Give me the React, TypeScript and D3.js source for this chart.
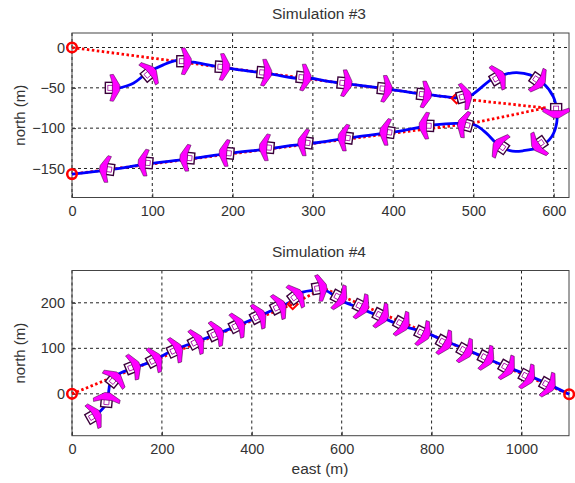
import React, { useEffect, useRef } from 'react';
import * as d3 from 'd3';

// Simulation #3, values (metres)
const sim3PathEast = [57.7, 76.4, 93, 113.7, 130.3, 151, 176, 209.2, 246.6, 279.8, 296.4, 321.3, 348.3, 396, 445.8, 487.4, 497.7, 524.7, 541.3, 553.8, 570.4, 587, 599.4, 603.6, 603.6, 597.4, 582.8, 562.1, 545.5, 528.9, 516.4, 501.9, 479, 450, 404.3, 354.5, 304.7, 271.5, 242.4, 200.9, 142.8, 93, 47.3, 0];
const sim3PathNorth = [-50.5, -44.3, -31.9, -21.5, -16.1, -18.2, -22.8, -27.7, -32.7, -38.1, -38.1, -42.2, -45.6, -51.8, -58.8, -62.1, -58.8, -38.1, -32.7, -31.1, -34, -44.3, -60.9, -77.5, -94, -110.7, -123.1, -128, -128, -119, -106.5, -96.1, -94, -96.1, -104.4, -110.7, -118.1, -121.8, -126, -130.6, -138.4, -144.6, -151.3, -157];
const sim3WayEast = [0, 479, 590, 497, 0];
const sim3WayNorth = [0, -63, -75, -94, -157];
const sim3PlaneEast = [49, 95, 138, 186, 238, 287, 338, 388, 437, 487, 529, 579, 603, 583, 535, 491, 443, 394, 342, 292, 244, 194, 145, 93, 45];
const sim3PlaneNorth = [-50, -33, -17, -24, -31, -37, -44, -51, -58, -61, -38, -40, -77, -119, -123, -96, -97, -105, -112, -118, -124, -131, -137, -143, -151];
const sim3PlaneHeading = [0, 40, 0, -3, -5, -6, -6, -6, -6, 15, 30, -35, -90, -145, 145, 165, 178, 172, 172, 172, 175, 175, 175, 175, 172];

// Simulation #4
const sim4PathEast = [58, 77, 81, 85, 99, 136, 181, 225, 270, 314, 359, 411, 455, 492, 507, 544, 567, 596, 641, 685, 730, 782, 826, 871, 915, 960, 1004, 1056, 1106];
const sim4PathNorth = [-43, -21, 0, 23, 41, 56, 73, 96, 112, 128, 146, 168, 188, 206, 221, 228, 226, 206, 188, 170, 151, 136, 118, 100, 81, 62, 45, 23, -1];
const sim4WayEast = [0, 491, 559, 1106];
const sim4WayNorth = [0, 197, 232, -1];
const sim4PlaneEast = [46, 77, 92, 133, 181, 227, 274, 318, 365, 412, 457, 496, 548, 592, 641, 685, 731, 778, 826, 872, 919, 965, 1010, 1056];
const sim4PlaneNorth = [-50, -16, 30, 58, 73, 95, 113, 131, 149, 169, 190, 213, 232, 213, 193, 173, 155, 134, 114, 96, 80, 59, 39, 21];
const sim4PlaneHeading = [30, 85, 51, 22, 28, 25, 28, 25, 27, 27, 27, 37, 10, -28, -27, -27, -29, -26, -29, -30, -27, -30, -28, -29];

const wingPath = 'M-1.5,-13 L2,-13.5 L8.5,-2.5 L8.5,2.5 L2,13.5 L-1.5,13 L1,5 L1,-5 Z';
const textColor = '#333333';
const font = '"Liberation Sans", Arial, sans-serif';

function drawPanel(svg, opt) {
	const x = d3.scaleLinear().domain(opt.xDomain).range([72, 569]);
	const y = d3.scaleLinear().domain(opt.yDomain).range(opt.yRange);
	const left = 72, right = 569, top = opt.yRange[1], bottom = opt.yRange[0];
	const g = svg.append('g');

	// grid
	g.selectAll('.vgrid').data(opt.xTicks).enter().append('line')
		.attr('x1', d => x(d)).attr('x2', d => x(d)).attr('y1', top).attr('y2', bottom)
		.attr('stroke', '#222').attr('stroke-dasharray', '3,3');
	g.selectAll('.hgrid').data(opt.yTicks).enter().append('line')
		.attr('x1', left).attr('x2', right).attr('y1', d => y(d)).attr('y2', d => y(d))
		.attr('stroke', '#222').attr('stroke-dasharray', '3,3');

	// axes
	const xAxis = d3.axisBottom(x).tickValues(opt.xTicks).tickSize(-4).tickPadding(8).tickFormat(d3.format('d'));
	const yAxis = d3.axisLeft(y).tickValues(opt.yTicks).tickSize(-4).tickPadding(7).tickFormat(d3.format('d'));
	const ax = g.append('g').attr('transform', 'translate(0,' + bottom + ')').call(xAxis);
	const ay = g.append('g').attr('transform', 'translate(' + left + ',0)').call(yAxis);
	for (const a of [ax, ay]) {
		a.select('.domain').remove();
		a.selectAll('line').attr('stroke', '#333');
		a.selectAll('text').attr('fill', textColor).attr('font-family', font).attr('font-size', 14.5);
	}
	g.append('rect')
		.attr('x', left).attr('y', top).attr('width', right - left).attr('height', bottom - top)
		.attr('fill', 'none').attr('stroke', '#444');

	const line = d3.line().x(d => x(d[0])).y(d => y(d[1]));

	// planned route
	g.append('path').datum(d3.zip(opt.wayEast, opt.wayNorth))
		.attr('d', line).attr('fill', 'none').attr('stroke', '#ff0000')
		.attr('stroke-width', 2.8).attr('stroke-dasharray', '2.5,2.5');

	// flown path
	g.append('path').datum(d3.zip(opt.pathEast, opt.pathNorth))
		.attr('d', line.curve(d3.curveCatmullRom)).attr('fill', 'none')
		.attr('stroke', '#0000ff').attr('stroke-width', 2.8);

	// waypoints, circles at the ends of the route and diamonds between
	const ends = [0, opt.wayEast.length - 1];
	g.selectAll('.end').data(ends).enter().append('circle')
		.attr('cx', i => x(opt.wayEast[i])).attr('cy', i => y(opt.wayNorth[i])).attr('r', 4.8)
		.attr('fill', 'none').attr('stroke', '#ff0000').attr('stroke-width', 2.5);
	g.selectAll('.mid').data(opt.diamonds).enter().append('path')
		.attr('d', d3.symbol().type(d3.symbolSquare).size(50))
		.attr('transform', i => 'translate(' + x(opt.wayEast[i]) + ',' + y(opt.wayNorth[i]) + ') rotate(45)')
		.attr('fill', 'none').attr('stroke', '#ff0000').attr('stroke-width', 2);

	// aircraft
	const planes = g.selectAll('.plane').data(opt.planeEast).enter().append('g')
		.attr('transform', (d, i) => 'translate(' + x(d) + ',' + y(opt.planeNorth[i]) + ') rotate(' + (-opt.planeHeading[i]) + ')');
	planes.append('rect').attr('x', -6).attr('y', -5.5).attr('width', 8).attr('height', 11)
		.attr('fill', '#fff').attr('stroke', '#3a003a').attr('stroke-width', 1.4);
	planes.append('rect').attr('x', -3.5).attr('y', -2.5).attr('width', 5).attr('height', 5)
		.attr('fill', 'none').attr('stroke', '#a000a0').attr('stroke-width', 0.8);
	planes.append('path').attr('d', wingPath)
		.attr('fill', '#ff00ff').attr('stroke', '#400040').attr('stroke-width', 0.5);

	// labels
	g.append('text').attr('x', 319).attr('y', top - 14).attr('text-anchor', 'middle')
		.attr('fill', textColor).attr('font-family', font).attr('font-size', 15.5).text(opt.title);
	g.append('text').attr('transform', 'translate(25,' + ((top + bottom) / 2) + ') rotate(-90)').attr('text-anchor', 'middle')
		.attr('fill', textColor).attr('font-family', font).attr('font-size', 15).text('north (m)');
	if (opt.xLabel) {
		g.append('text').attr('x', 320).attr('y', bottom + 38).attr('text-anchor', 'middle')
			.attr('fill', textColor).attr('font-family', font).attr('font-size', 15.5).text(opt.xLabel);
	}
}

export default function App() {
	const ref = useRef(null);

	useEffect(() => {
		const svg = d3.select(ref.current);
		svg.selectAll('*').remove();
		drawPanel(svg, {
			title: 'Simulation #3',
			xDomain: [0, 619], yDomain: [-186, 18], yRange: [197.5, 33],
			xTicks: [0, 100, 200, 300, 400, 500, 600], yTicks: [-150, -100, -50, 0],
			pathEast: sim3PathEast, pathNorth: sim3PathNorth,
			wayEast: sim3WayEast, wayNorth: sim3WayNorth, diamonds: [1],
			planeEast: sim3PlaneEast, planeNorth: sim3PlaneNorth, planeHeading: sim3PlaneHeading,
		});
		drawPanel(svg, {
			title: 'Simulation #4', xLabel: 'east (m)',
			xDomain: [0, 1105.7], yDomain: [-92, 271], yRange: [435.7, 270.5],
			xTicks: [0, 200, 400, 600, 800, 1000], yTicks: [0, 100, 200],
			pathEast: sim4PathEast, pathNorth: sim4PathNorth,
			wayEast: sim4WayEast, wayNorth: sim4WayNorth, diamonds: [1],
			planeEast: sim4PlaneEast, planeNorth: sim4PlaneNorth, planeHeading: sim4PlaneHeading,
		});
	}, []);

	return <svg ref={ref} width={575} height={483} style={{ position: 'absolute', left: 0, top: 0, background: '#fff' }} />;
}
